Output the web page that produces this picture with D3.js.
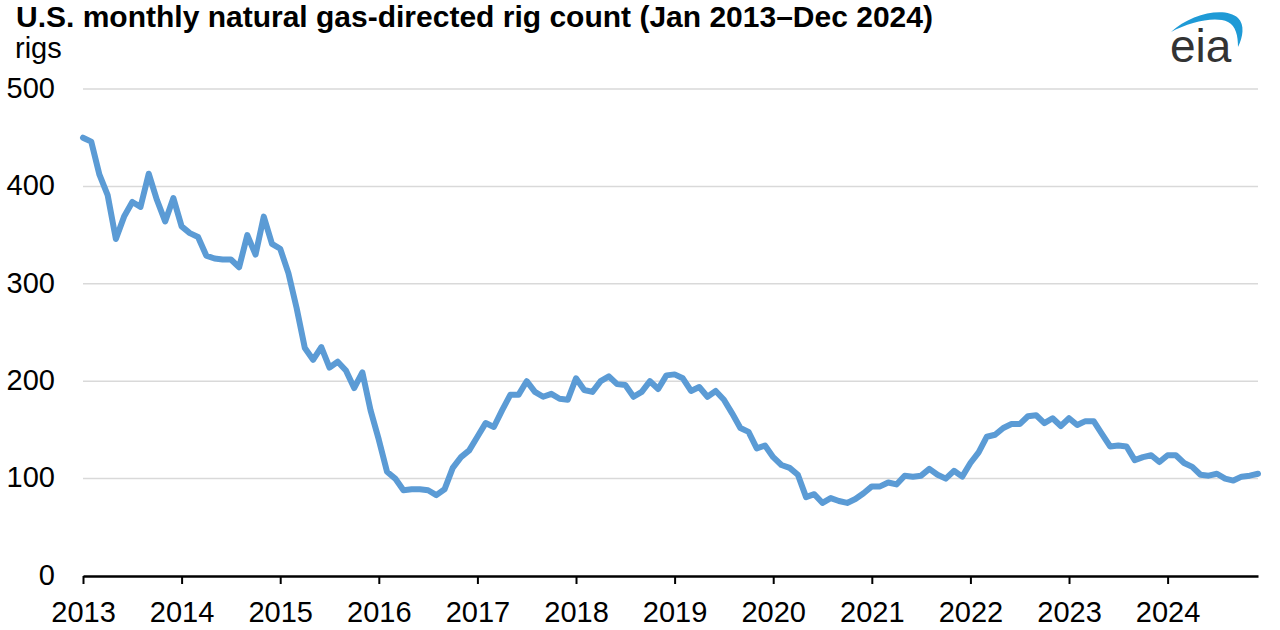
<!DOCTYPE html>
<html>
<head>
<meta charset="utf-8">
<script src="https://cdn.jsdelivr.net/npm/d3@7"></script>
<style>
  html, body { margin: 0; padding: 0; background: #fff; }
  svg { display: block; font-family: "Liberation Sans", Arial, sans-serif; }
</style>
</head>
<body>
<svg id="chart" width="1280" height="630"></svg>
<script>
const years = ["2013","2014","2015","2016","2017","2018","2019","2020","2021","2022","2023","2024"];
const yTicks = [0, 100, 200, 300, 400, 500];
const rigs2013 = [450, 446, 412, 391, 346, 369, 384, 379, 413, 386, 364, 388];
const rigs2014 = [359, 352, 348, 329, 326, 325, 325, 317, 350, 330, 369, 341];
const rigs2015 = [336, 311, 275, 234, 222, 235, 214, 220, 211, 193, 209, 170];
const rigs2016 = [140, 107, 100, 88, 89, 89, 88, 83, 89, 111, 122, 129];
const rigs2017 = [143, 157, 153, 170, 186, 186, 200, 189, 184, 187, 182, 181];
const rigs2018 = [203, 191, 189, 200, 205, 197, 196, 184, 189, 200, 192, 206];
const rigs2019 = [207, 203, 190, 194, 184, 190, 181, 167, 152, 148, 131, 134];
const rigs2020 = [122, 114, 111, 104, 81, 84, 75, 80, 77, 75, 79, 85];
const rigs2021 = [92, 92, 96, 94, 103, 102, 103, 110, 104, 100, 108, 102];
const rigs2022 = [116, 127, 143, 145, 152, 156, 156, 164, 165, 157, 162, 154];
const rigs2023 = [162, 155, 159, 159, 146, 133, 134, 133, 119, 122, 124, 117];
const rigs2024 = [124, 124, 116, 112, 104, 103, 105, 100, 98, 102, 103, 105];

const values = [].concat(rigs2013, rigs2014, rigs2015, rigs2016, rigs2017, rigs2018,
                         rigs2019, rigs2020, rigs2021, rigs2022, rigs2023, rigs2024);

const svg = d3.select("#chart");
const plotLeft = 83, plotRight = 1258, plotTop = 89, plotBottom = 576;

const x = d3.scaleLinear().domain([0, values.length - 1]).range([plotLeft, plotRight]);
const y = d3.scaleLinear().domain([0, 500]).range([plotBottom, plotTop]);

// title
svg.append("text")
  .attr("x", 16).attr("y", 27)
  .attr("font-size", 30).attr("font-weight", "bold").attr("fill", "#000")
  .text("U.S. monthly natural gas-directed rig count (Jan 2013\u2013Dec 2024)");

svg.append("text")
  .attr("x", 15).attr("y", 58)
  .attr("font-size", 29).attr("fill", "#000")
  .text("rigs");

// gridlines
svg.append("g")
  .selectAll("line")
  .data(yTicks.filter(d => d > 0))
  .join("line")
  .attr("x1", plotLeft).attr("x2", plotRight)
  .attr("y1", d => y(d)).attr("y2", d => y(d))
  .attr("stroke", "#d9d9d9").attr("stroke-width", 1.5);

// y labels
svg.append("g")
  .selectAll("text")
  .data(yTicks)
  .join("text")
  .attr("x", 55).attr("y", d => y(d))
  .attr("dy", "0.3em")
  .attr("text-anchor", "end")
  .attr("font-size", 29).attr("fill", "#000")
  .text(d => d);

// x axis
const xAxis = d3.axisBottom(x)
  .tickValues(years.map((d, i) => i * 12))
  .tickFormat((d, i) => years[i])
  .tickSize(8)
  .tickSizeOuter(0);

const gx = svg.append("g")
  .attr("transform", `translate(0,${plotBottom})`)
  .call(xAxis);
gx.select(".domain").attr("stroke", "#000").attr("stroke-width", 2.5);
gx.selectAll(".tick line").attr("stroke", "#000").attr("stroke-width", 2);
gx.selectAll(".tick text")
  .attr("font-size", 29).attr("fill", "#000")
  .attr("font-family", "'Liberation Sans', Arial, sans-serif")
  .attr("y", 46).attr("dy", "0");

// line
const line = d3.line()
  .x((d, i) => x(i))
  .y(d => y(d));

svg.append("path")
  .datum(values)
  .attr("d", line)
  .attr("fill", "none")
  .attr("stroke", "#5b9bd5")
  .attr("stroke-width", 6)
  .attr("stroke-linejoin", "round")
  .attr("stroke-linecap", "round");

// eia logo
const logo = svg.append("g");
logo.append("path")
  .attr("d", "M1171,32 C1190,14 1225,6 1238,18 C1245,25 1243,37 1238,47 C1238,36 1236,26 1228,22 C1215,16 1190,22 1171,32 Z")
  .attr("fill", "#1e9ad6");
logo.append("text")
  .attr("x", 1170).attr("y", 62)
  .attr("font-size", 46).attr("fill", "#333")
  .attr("font-family", "'Liberation Sans', Arial, sans-serif")
  .text("eia");
</script>
</body>
</html>
